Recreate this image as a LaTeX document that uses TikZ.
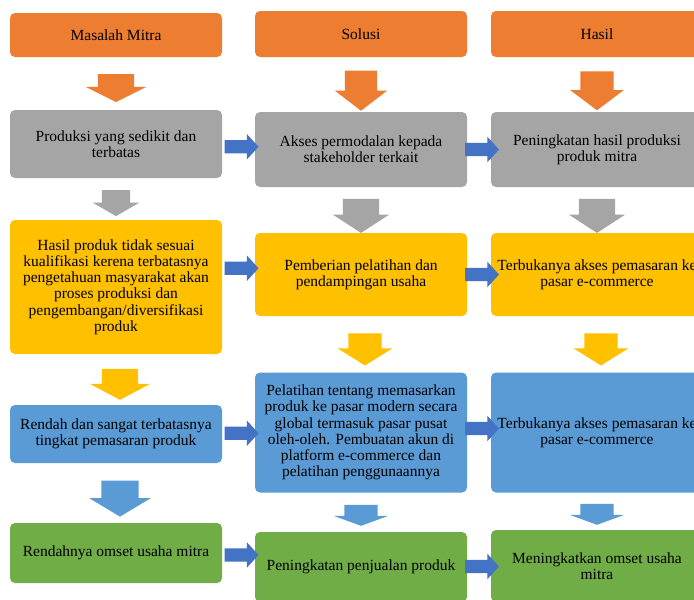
\documentclass[tikz,border=0pt]{standalone}
\usepackage{fontspec}
\setmainfont{Liberation Serif}
\usetikzlibrary{shapes.arrows,calc}

\definecolor{kOrange}{HTML}{ED7D31}
\definecolor{kGray}{HTML}{A5A5A5}
\definecolor{kYellow}{HTML}{FFC000}
\definecolor{kBlue}{HTML}{5B9BD5}
\definecolor{kGreen}{HTML}{70AD47}
\definecolor{kArrow}{HTML}{4472C4}

\tikzset{
    box/.style = {rectangle, rounded corners=5pt, minimum width=212pt, align=center,
        inner sep=0pt, font=\fontsize{15.5}{16.2}\selectfont},
    downarr/.style n args = {4}{single arrow, rotate=-90, minimum height=#1,
        minimum width=#2, inner xsep=0pt, inner ysep=#3, single arrow head extend=#2/2-#3,
        single arrow tip angle=#4},
    rightarr/.style = {single arrow, minimum height=34pt, minimum width=25pt, inner xsep=0pt,
        inner ysep=6.4pt, single arrow head extend=6.1pt, single arrow tip angle=95, fill=kArrow}
}

\begin{document}
\begin{tikzpicture}[x=1pt, y=-1pt]
                \clip (0,0) rectangle (694,600);
                \fill[white] (0,0) rectangle (694,600);

                \node[box, fill=kOrange, minimum height=44pt] (h1) at (116,35) {Masalah Mitra};
                \node[box, fill=kOrange, minimum height=46pt] (h2) at (361,34) {Solusi};
                \node[box, fill=kOrange, minimum height=46pt] (h3) at (597,34) {Hasil};

                \node[box, fill=kGray, minimum height=68pt] (p1) at (116,144) {Produksi yang sedikit dan\\terbatas};
                \node[box, fill=kGray, minimum height=75pt] (s1) at (361,149.5) {Akses permodalan kepada\\stakeholder terkait};
                \node[box, fill=kGray, minimum height=75pt] (r1) at (597,149.5) {Peningkatan hasil produksi\\produk mitra};

                \node[box, fill=kYellow, minimum height=134pt] (p2) at (116,287) {Hasil produk tidak sesuai\\kualifikasi kerena terbatasnya\\pengetahuan masyarakat akan\\proses produksi dan\\pengembangan/diversifikasi\\produk};
                \node[box, fill=kYellow, minimum height=83pt] (s2) at (361,274.5) {Pemberian pelatihan dan\\pendampingan usaha};
                \node[box, fill=kYellow, minimum height=83pt] (r2) at (597,274.5) {Terbukanya akses pemasaran ke\\pasar e-commerce};

                \node[box, fill=kBlue, minimum height=58pt] (p3) at (116,434) {Rendah dan sangat terbatasnya\\tingkat pemasaran produk};
                \node[box, fill=kBlue, minimum height=120pt] (s3) at (361,432.5) {Pelatihan tentang memasarkan\\produk ke pasar modern secara\\global termasuk pasar pusat\\oleh-oleh. Pembuatan akun di\\platform e-commerce dan\\pelatihan penggunaannya};
                \node[box, fill=kBlue, minimum height=120pt] (r3) at (597,432.5) {Terbukanya akses pemasaran ke\\pasar e-commerce};

                \node[box, fill=kGreen, minimum height=60pt] (p4) at (116,553) {Rendahnya omset usaha mitra};
                \node[box, fill=kGreen, minimum height=70pt] (s4) at (361,567) {Peningkatan penjualan produk};
                \node[box, fill=kGreen, minimum height=72pt] (r4) at (597,566) {Meningkatkan omset usaha\\mitra};

                \node[downarr={28pt}{60pt}{18pt}{127}, fill=kOrange] (o1) at ($(h1.south)!.5!(p1.north)$) {};
                \node[downarr={40pt}{52pt}{16pt}{105}, fill=kOrange] (o2) at ($(h2.south)!.5!(s1.north)$) {};
                \node[downarr={39pt}{53pt}{16.5pt}{106}, fill=kOrange] (o3) at ($(h3.south)!.5!(r1.north)$) {};

                \node[downarr={26pt}{46pt}{14pt}{120}, fill=kGray] (g1) at ($(p1.south)!.5!(p2.north)$) {};
                \node[downarr={34pt}{56pt}{18pt}{114}, fill=kGray] (g2) at ($(s1.south)!.5!(s2.north)$) {};
                \node[downarr={34pt}{56pt}{18pt}{114}, fill=kGray] (g3) at ($(r1.south)!.5!(r2.north)$) {};

                \node[downarr={31pt}{60pt}{18pt}{124}, fill=kYellow, yshift=4pt] (y1) at ($(p2.south)!.5!(p3.north)$) {};
                \node[downarr={32pt}{54pt}{16.5pt}{116}, fill=kYellow, yshift=4pt] (y2) at ($(s2.south)!.5!(s3.north)$) {};
                \node[downarr={32pt}{54pt}{16.5pt}{116}, fill=kYellow, yshift=4pt] (y3) at ($(r2.south)!.5!(r3.north)$) {};

                \node[downarr={36pt}{61pt}{18.5pt}{118}, fill=kBlue, yshift=4pt] (b1) at ($(p3.south)!.5!(p4.north)$) {};
                \node[downarr={21pt}{54pt}{16.5pt}{140}, fill=kBlue] (b2) at ($(s3.south)!.5!(s4.north)$) {};
                \node[downarr={21pt}{54pt}{16.5pt}{140}, fill=kBlue] (b3) at ($(r3.south)!.5!(r4.north)$) {};

                \node[rightarr] (a1) at ($(p1.east)!.5!(s1.west)$) {};
                \node[rightarr] (a2) at ($(s1.east)!.5!(r1.west)$) {};
                \node[rightarr, yshift=12.5pt] (a3) at ($(p2.east)!.5!(s2.west)$) {};
                \node[rightarr] (a4) at ($(s2.east)!.5!(r2.west)$) {};
                \node[rightarr] (a5) at ($(p3.east)!.5!(s3.west)$) {};
                \node[rightarr, yshift=4pt] (a6) at ($(s3.east)!.5!(r3.west)$) {};
                \node[rightarr, yshift=5pt] (a7) at ($(p4.east)!.5!(s4.west)$) {};
                \node[rightarr] (a8) at ($(s4.east)!.5!(r4.west)$) {};
            \end{tikzpicture}
\end{document}
